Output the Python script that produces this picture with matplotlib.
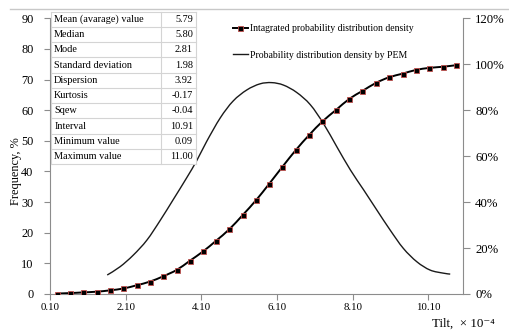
import numpy as np
import matplotlib
matplotlib.use("Agg")
import matplotlib.pyplot as plt
from matplotlib.lines import Line2D
from matplotlib.patches import Rectangle, PathPatch
from matplotlib.path import Path

plt.rcParams["font.family"] = ["Liberation Serif", "DejaVu Serif"]

# ── data ────────────────────────────────────────────────────────────────────
# integrated (cumulative) distribution, right axis, %
cum_x = [0.28, 0.63, 0.98, 1.33, 1.69, 2.04, 2.39, 2.74, 3.09, 3.45, 3.79,
         4.15, 4.49, 4.84, 5.20, 5.55, 5.89, 6.24, 6.60, 6.95, 7.30, 7.66,
         8.01, 8.36, 8.72, 9.06, 9.42, 9.77, 10.12, 10.48, 10.84]
cum_y = [0.2, 0.4, 0.7, 1.0, 1.6, 2.4, 3.8, 5.4, 7.7, 10.5, 14.4,
         18.6, 23.2, 28.2, 34.5, 40.9, 47.9, 55.3, 62.7, 69.2, 75.1, 80.1,
         84.9, 88.4, 91.9, 94.3, 95.9, 97.5, 98.4, 98.9, 99.6]

# probability density by PEM, left axis, %
pem_x = [1.61, 1.95, 2.30, 2.66, 3.01, 3.36, 3.71, 3.98, 4.24, 4.60, 4.94,
         5.30, 5.65, 5.96, 6.27, 6.62, 6.98, 7.33, 7.68, 8.04, 8.39, 8.74,
         9.09, 9.44, 9.80, 10.15, 10.50, 10.68]
pem_y = [6.2, 8.9, 12.7, 17.6, 24.0, 30.9, 37.9, 43.6, 49.8, 57.5, 63.0,
         66.6, 68.6, 69.0, 68.2, 65.8, 61.8, 55.6, 48.1, 40.5, 34.0, 27.4,
         20.9, 14.9, 10.5, 7.8, 6.8, 6.5]

stat_names = ["Mean (avarage) value", "Median", "Mode", "Standard deviation",
              "Dispersion", "Kurtosis", "Sqew", "Interval",
              "Minimum value", "Maximum value"]
stat_values = ["5.79", "5.80", "2.81", "1.98", "3.92", "-0.17", "-0.04",
               "10.91", "0.09", "11.00"]

x_ticks = [0.10, 2.10, 4.10, 6.10, 8.10, 10.10]
left_ticks = list(range(0, 91, 10))
right_ticks = list(range(0, 121, 20))


def smooth_path(xs, ys):
    # Excel-like smoothed line: Catmull-Rom segments as cubic Beziers
    p = np.column_stack([xs, ys]).astype(float)
    n = len(p)
    verts, codes = [p[0]], [Path.MOVETO]
    for i in range(n - 1):
        p0 = p[i - 1] if i > 0 else p[i]
        p3 = p[i + 2] if i + 2 < n else p[i + 1]
        verts += [p[i] + (p[i + 1] - p0) / 6, p[i + 1] - (p3 - p[i]) / 6, p[i + 1]]
        codes += [Path.CURVE4] * 3
    return Path(verts, codes)


# ── figure ──────────────────────────────────────────────────────────────────
W, H = 509, 335
fig = plt.figure(figsize=(W / 100, H / 100), dpi=100)


def fx(px):
    return px / W


def fy(py):
    return 1 - py / H


AXC = "#8c8c8c"
ax = fig.add_axes([fx(50.1), fy(294), fx(462.7) - fx(50.1), fy(18.3) - fy(294)])
ax.set_xlim(0.10, 11.01)
ax.set_ylim(0, 90)
ax.set_xticks(x_ticks)
ax.set_xticklabels([f"{t:.2f}" for t in x_ticks])
ax.set_yticks(left_ticks)
ax.tick_params(axis="x", direction="out", length=4, color=AXC, labelsize=7.8, pad=2.5)
ax.tick_params(axis="y", direction="out", length=4, color=AXC, labelsize=8.8, pad=8)
for s in ["top", "right"]:
    ax.spines[s].set_visible(False)
for s in ["left", "bottom"]:
    ax.spines[s].set_color(AXC)
    ax.spines[s].set_linewidth(0.8)

PEM_C = "#1a1a1a"
ax.add_patch(PathPatch(smooth_path(pem_x, pem_y), facecolor="none",
                       edgecolor=PEM_C, linewidth=1.0))

ax2 = ax.twinx()
ax2.set_ylim(0, 120)
ax2.set_yticks(right_ticks)
ax2.set_yticklabels([f"{t}%" for t in right_ticks])
ax2.tick_params(axis="y", direction="out", length=5, color=AXC, labelsize=9.2, pad=4)
for s in ["top", "left", "bottom"]:
    ax2.spines[s].set_visible(False)
ax2.spines["right"].set_color(AXC)
ax2.spines["right"].set_linewidth(0.8)

ax2.add_patch(PathPatch(smooth_path(cum_x, cum_y), facecolor="none",
                        edgecolor="#000000", linewidth=1.4))
mk = dict(marker="s", markersize=3.6, markerfacecolor="#000000",
          markeredgecolor="#c0504d", markeredgewidth=0.6)
ax2.plot(cum_x, cum_y, linestyle="none", **mk)

handles = [Line2D([], [], color="#000000", linewidth=1.4, **mk),
           Line2D([], [], color=PEM_C, linewidth=1.0)]
labels = ["Intagrated probability distribution density",
          "Probability distribution density by PEM"]
fig.legend(handles, labels, loc="upper left",
           bbox_to_anchor=(fx(233), fy(24)), frameon=False, fontsize=7,
           handlelength=1.5, handletextpad=0.2, labelspacing=1.8,
           borderpad=0, borderaxespad=0)

fig.text(fx(16), fy(171), "Frequency, %", rotation=90, ha="center",
         va="center", fontsize=8.8)
fig.text(fx(432), fy(324), "Tilt,  × 10⁻⁴", ha="left", va="center",
         fontsize=9.4)

# ── statistics table and frame line (overlay in pixel coordinates) ─────────
ov = fig.add_axes([0, 0, 1, 1])
ov.set_xlim(0, W)
ov.set_ylim(H, 0)
ov.axis("off")
ov.patch.set_alpha(0)

ov.add_line(Line2D([10, W], [9, 9], color="#c8c8c8", linewidth=1.0))

tl, tm, tr, tt = 50.7, 161, 196, 11.7
rh = 15.25
nrow = len(stat_names)
ov.add_patch(Rectangle((tl, tt), tr - tl, rh * nrow, facecolor="white",
                       edgecolor="none", zorder=2))
GRID = "#d4d4d4"
for i in range(nrow + 1):
    ov.add_line(Line2D([tl, tr], [tt + i * rh] * 2, color=GRID,
                       linewidth=0.8, zorder=3))
for xv in (tl, tm, tr):
    ov.add_line(Line2D([xv, xv], [tt, tt + rh * nrow], color=GRID,
                       linewidth=0.8, zorder=3))
for i, (name, val) in enumerate(zip(stat_names, stat_values)):
    yc = tt + (i + 0.5) * rh
    ov.text(tl + 3.5, yc, name, ha="left", va="center", fontsize=7.4, zorder=4)
    ov.text(tr - 3, yc, val, ha="right", va="center", fontsize=7.4, zorder=4)

fig.savefig("out.png", dpi=100)
